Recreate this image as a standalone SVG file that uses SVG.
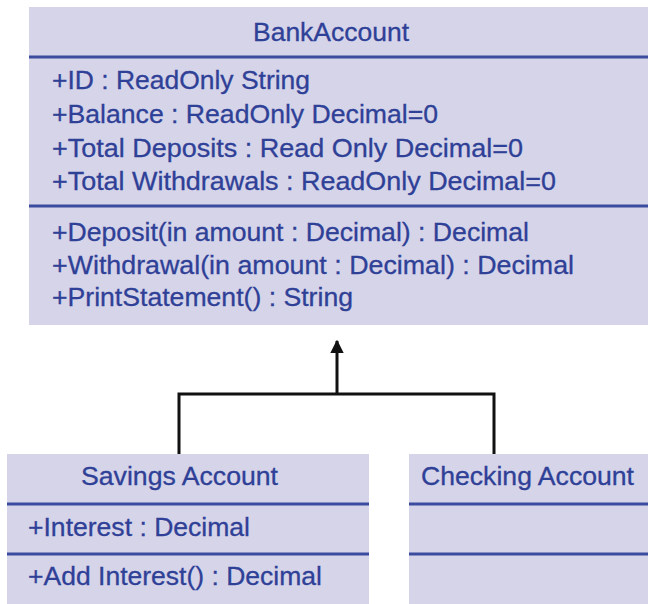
<svg xmlns="http://www.w3.org/2000/svg" width="648" height="604" viewBox="0 0 648 604">
<defs>
<style>
.box{fill:#d5d4e9;}
.sep{stroke:#3b4c9e;stroke-width:3;fill:none;}
.t{font-family:"Liberation Sans",Arial,sans-serif;font-size:26px;fill:#2f4097;stroke:#2f4097;stroke-width:0.3;}
.conn{stroke:#111;stroke-width:3;fill:none;}
</style>
<marker id="arr" viewBox="0 0 10 10" refX="9" refY="5" markerWidth="4.5" markerHeight="4.5" orient="auto" markerUnits="strokeWidth">
<path d="M0,0 L10,5 L0,10 z" fill="#111"/>
</marker>
</defs>
<rect width="648" height="604" fill="#ffffff"/>
<g id="bank-account">
<rect class="box" x="29" y="7" width="619" height="318"/>
<line class="sep" x1="29" y1="57" x2="648" y2="57"/>
<line class="sep" x1="29" y1="206" x2="648" y2="206"/>
<text class="t" x="253" y="41" textLength="156" lengthAdjust="spacingAndGlyphs">BankAccount</text>
<text class="t" x="52" y="89" textLength="258" lengthAdjust="spacingAndGlyphs">+ID : ReadOnly String</text>
<text class="t" x="52" y="123" textLength="386" lengthAdjust="spacingAndGlyphs">+Balance : ReadOnly Decimal=0</text>
<text class="t" x="52" y="157" textLength="471" lengthAdjust="spacingAndGlyphs">+Total Deposits : Read Only Decimal=0</text>
<text class="t" x="52" y="190" textLength="504" lengthAdjust="spacingAndGlyphs">+Total Withdrawals : ReadOnly Decimal=0</text>
<text class="t" x="52" y="241" textLength="477" lengthAdjust="spacingAndGlyphs">+Deposit(in amount : Decimal) : Decimal</text>
<text class="t" x="52" y="274" textLength="522" lengthAdjust="spacingAndGlyphs">+Withdrawal(in amount : Decimal) : Decimal</text>
<text class="t" x="52" y="306" textLength="301" lengthAdjust="spacingAndGlyphs">+PrintStatement() : String</text>
</g>
<g id="savings-account">
<rect class="box" x="7" y="454" width="362" height="150"/>
<line class="sep" x1="7" y1="504" x2="369" y2="504"/>
<line class="sep" x1="7" y1="554" x2="369" y2="554"/>
<text class="t" x="81" y="485" textLength="197" lengthAdjust="spacingAndGlyphs">Savings Account</text>
<text class="t" x="28" y="536" textLength="222" lengthAdjust="spacingAndGlyphs">+Interest : Decimal</text>
<text class="t" x="28" y="585" textLength="294" lengthAdjust="spacingAndGlyphs">+Add Interest() : Decimal</text>
</g>
<g id="checking-account">
<rect class="box" x="409" y="454" width="239" height="150"/>
<line class="sep" x1="409" y1="504" x2="648" y2="504"/>
<line class="sep" x1="409" y1="554" x2="648" y2="554"/>
<text class="t" x="421" y="485" textLength="213" lengthAdjust="spacingAndGlyphs">Checking Account</text>
</g>
<g id="connectors">
<polyline class="conn" points="179,454 179,394 494,394 494,454"/>
<line class="conn" x1="337" y1="394" x2="337" y2="341" marker-end="url(#arr)"/>
</g>
</svg>
